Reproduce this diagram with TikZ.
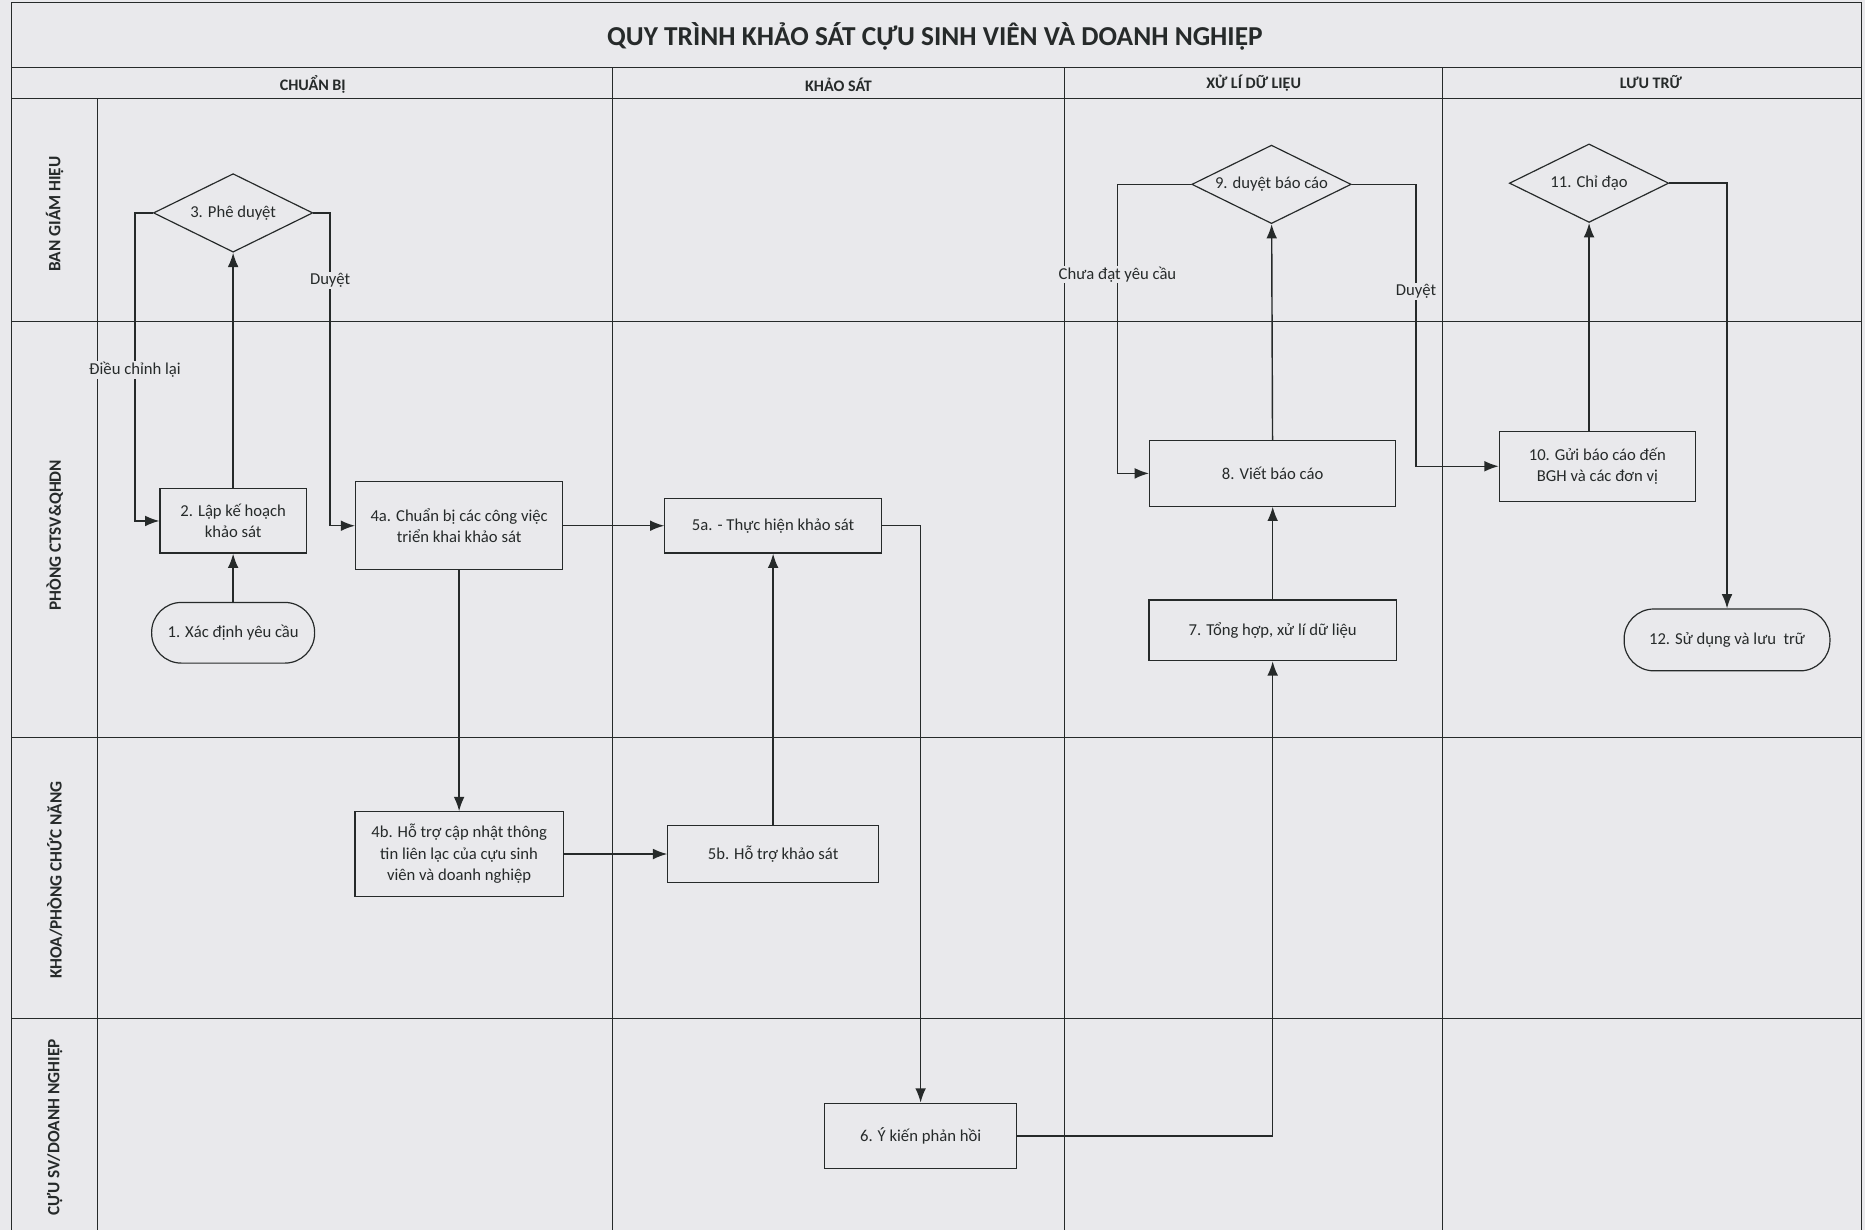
\documentclass[tikz,border=0pt]{standalone}
\usepackage{fontspec}
\setmainfont{Carlito}
\usetikzlibrary{shapes.geometric,arrows.meta}
\definecolor{paper}{RGB}{233,233,236}
\definecolor{ink}{RGB}{38,42,42}

\begin{document}
\begin{tikzpicture}[
    x=1pt, y=-1pt,
    every node/.style={
      font=\fontsize{14}{18}\selectfont,
      text=ink
    },
    box/.style={
      rectangle,
      draw=ink,
      fill=paper,
      line width=1pt,
      align=center,
      inner sep=2pt
    },
    term/.style={
      box,
      rounded corners=25pt
    },
    decide/.style={
      diamond,
      draw=ink,
      fill=paper,
      line width=1pt,
      shape aspect=2.05,
      inner sep=0pt,
      minimum width=134pt,
      minimum height=66pt
    },
    flow/.style={
      draw=ink,
      line width=1.2pt,
      -{Latex[length=12pt,width=9pt]}
    },
    lbl/.style={
      fill=paper,
      inner sep=1pt
    },
    lane/.style={
      font=\fontsize{14.5}{16}\selectfont\bfseries,
      rotate=90
    },
    phase/.style={
      font=\fontsize{13.5}{16}\selectfont\bfseries
    },
    grid/.style={
      draw=ink,
      line width=1pt
    }
  ]
  \fill[paper] (0,0) rectangle (1568,1034);
  \useasboundingbox (0,0) rectangle (1568,1034);

  \draw[grid] (10,1034) -- (10,2) -- (1565,2) -- (1565,1034);
  \draw[grid] (10,57) -- (1565,57);
  \draw[grid] (10,83) -- (1565,83);
  \foreach \y in {270,620,856}
    \draw[grid] (10,\y) -- (1565,\y);
  \draw[grid] (82,83) -- (82,1034);
  \foreach \x in {515,895,1213}
    \draw[grid] (\x,57) -- (\x,1034);

  \node[font=\fontsize{23}{26}\selectfont\bfseries] (title) at (786,31)
    {QUY TRÌNH KHẢO SÁT CỰU SINH VIÊN VÀ DOANH NGHIỆP};

  \node[phase] (ph1) at (263,71) {CHUẨN BỊ};
  \node[phase] (ph2) at (705,71) {KHẢO SÁT};
  \node[phase] (ph3) at (1054,70) {XỬ LÍ DỮ LIỆU};
  \node[phase] (ph4) at (1388,69) {LƯU TRỮ};

  \node[lane] (l1) at (46,180) {BAN GIÁM HIỆU};
  \node[lane] (l2) at (46,450) {PHÒNG CTSV\&QHDN};
  \node[lane] (l3) at (46,740) {KHOA/PHÒNG CHỨC NĂNG};
  \node[lane] (l4) at (46,948) {CỰU SV/DOANH NGHIỆP};

  \node[term, minimum width=137pt, minimum height=51pt] (n1) at (196,532)
    {1. Xác định yêu cầu};
  \node[box, minimum width=123pt, minimum height=54pt] (n2) at (196,438)
    {2. Lập kế hoạch\\khảo sát};
  \node[decide] (n3) at (196,179) {3. Phê duyệt};
  \node[box, minimum width=174pt, minimum height=74pt] (n4a) at (386,442)
    {4a. Chuẩn bị các công việc\\triển khai khảo sát};
  \node[box, minimum width=175pt, minimum height=71pt] (n4b) at (386,718)
    {4b. Hỗ trợ cập nhật thông\\tin liên lạc của cựu sinh\\viên và doanh nghiệp};
  \node[box, minimum width=182pt, minimum height=46pt] (n5a) at (650,442)
    {5a. - Thực hiện khảo sát};
  \node[box, minimum width=177pt, minimum height=48pt] (n5b) at (650,718)
    {5b. Hỗ trợ khảo sát};
  \node[box, minimum width=161pt, minimum height=55pt] (n6) at (774,955)
    {6. Ý kiến phản hồi};
  \node[box, minimum width=208pt, minimum height=51pt] (n7) at (1070,530)
    {7. Tổng hợp, xử lí dữ liệu};
  \node[box, minimum width=207pt, minimum height=55pt] (n8) at (1070,398)
    {8. Viết báo cáo};
  \node[decide] (n9) at (1069,155) {9. duyệt báo cáo};
  \node[box, minimum width=165pt, minimum height=59pt] (n10) at (1343,392)
    {10. Gửi báo cáo đến\\BGH và các đơn vị};
  \node[decide] (n11) at (1336,154) {11. Chỉ đạo};
  \node[term, minimum width=173pt, minimum height=52pt] (n12) at (1452,538)
    {12. Sử dụng và lưu~ trữ};

  \draw[flow] (n1) -- (n2);
  \draw[flow] (n2) -- (n3);
  \draw[flow] (n3.west) -- ++(-15,0) |- (n2.west)
    node[lbl, pos=0.255] {Điều chỉnh lại};
  \draw[flow] (n3.east) -- ++(14,0) |- (n4a.west)
    node[lbl, pos=0.108] {Duyệt};
  \draw[flow] (n4a) -- (n5a);
  \draw[flow] (n4a) -- (n4b);
  \draw[flow] (n4b) -- (n5b);
  \draw[flow] (n5b) -- (n5a);
  \draw[flow] (n5a.east) -| (n6.north);
  \draw[flow] (n6.east) -| (n7.south);
  \draw[flow] (n7) -- (n8);
  \draw[flow] (n8) -- (n9);
  \draw[flow] (n9.west) -- ++(-62,0) |- (n8.west)
    node[lbl, pos=0.156] {Chưa đạt yêu cầu};
  \draw[flow] (n9.east) -- ++(54,0) |- (n10.west)
    node[lbl, pos=0.19] {Duyệt};
  \draw[flow] (n11.south |- n10.north) -- (n11.south);
  \draw[flow] (n11.east) -| (n12.north);
\end{tikzpicture}
\end{document}
